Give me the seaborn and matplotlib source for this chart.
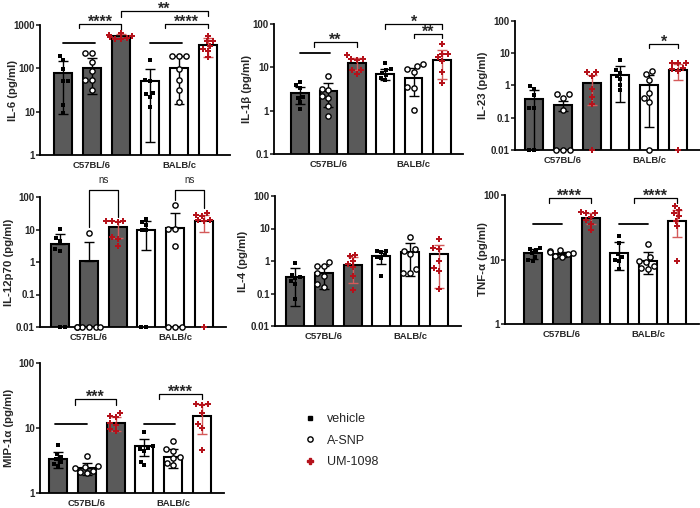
import matplotlib
matplotlib.use("Agg")
import matplotlib.pyplot as plt
from matplotlib.lines import Line2D
from matplotlib.ticker import NullLocator
import numpy as np
import pandas as pd
import seaborn as sns

STRAINS = ["C57BL/6", "BALB/c"]
TREATMENTS = ["vehicle", "A-SNP", "UM-1098"]
BARS = [f"{s} {t}" for s in STRAINS for t in TREATMENTS]

# bar heights (mean), SD, and individual animals, order = BARS
IL6_MEAN = [77, 100, 550, 50, 103, 340]
IL6_SD = [68, 75, 60, 48, 88, 160]
IL6_POINTS = [
    [191, 154, 94, 50, 50, 14, 9.3],
    [228, 220, 138, 89, 55, 55, 32],
    [660, 600, 555, 535, 510, 480, 465],
    [155, 55, 50, 27, 25, 22, 13],
    [195, 195, 195, 95, 55, 32, 17],
    [560, 430, 420, 330, 280, 250, 180],
]

IL1B_MEAN = [2.5, 2.8, 12.5, 7.2, 5.8, 15]
IL1B_SD = [1.1, 1.6, 4.0, 2.0, 3.6, 9.5]
IL1B_POINTS = [
    [4.7, 3.9, 3.3, 2.1, 2.0, 1.6, 1.1],
    [6.3, 3.2, 3.0, 2.2, 2.0, 1.3, 0.75],
    [19, 15.5, 15.5, 15, 8.7, 8.5, 7.2],
    [12.4, 9.0, 8.5, 7.5, 6.5, 5.8, 5.0],
    [12, 11, 9, 8, 3.5, 3.3, 1.05],
    [35, 20, 20, 17, 14, 8, 4.3],
]

IL23_MEAN = [0.38, 0.24, 1.2, 2.1, 1.05, 3.0]
IL23_SD = [0.37, 0.08, 0.95, 1.8, 1.0, 1.55]
IL23_POINTS = [
    [0.95, 0.8, 0.5, 0.2, 0.2, 0, 0],
    [0.55, 0.55, 0.42, 0.18, 0, 0, 0],
    [2.6, 2.6, 2.0, 0.8, 0.45, 0.27, 0],
    [6.0, 3.0, 2.5, 2.0, 1.6, 1.0, 0.7],
    [2.8, 2.3, 1.5, 0.6, 0.42, 0.3, 0],
    [5.0, 5.0, 5.0, 3.5, 3.3, 2.9, 0],
]

IL12_MEAN = [3.7, 1.1, 11.8, 10, 11.3, 18.5]
IL12_SD = [3.7, 2.95, 6.5, 7.7, 20, 10]
IL12_POINTS = [
    [10.5, 5.5, 4.5, 2.5, 2.2, 0, 0],
    [7.8, 0, 0, 0, 0, 0, 0],
    [18, 18, 18, 17.5, 6, 5, 3.2],
    [21, 17, 14, 10, 9.5, 0, 0],
    [55, 10.6, 10.6, 3.1, 0, 0, 0],
    [33, 27, 26, 20, 19, 18, 0],
]

IL4_MEAN = [0.32, 0.42, 0.76, 1.45, 1.95, 1.65]
IL4_SD = [0.28, 0.28, 0.55, 0.65, 1.6, 1.5]
IL4_POINTS = [
    [0.85, 0.37, 0.33, 0.3, 0.25, 0.2, 0.07],
    [0.95, 0.72, 0.68, 0.42, 0.35, 0.19, 0.16],
    [1.5, 1.4, 1.0, 0.8, 0.65, 0.35, 0.13],
    [2.1, 2.0, 1.9, 1.5, 1.3, 1.2, 0.35],
    [5.3, 2.3, 2.0, 1.6, 0.55, 0.42, 0.42],
    [4.6, 2.5, 2.4, 1.0, 0.6, 0.5, 0.14],
]

TNF_MEAN = [12.5, 12.0, 44, 12.8, 9.5, 40]
TNF_SD = [2.3, 1.2, 8, 6, 3.5, 18]
TNF_POINTS = [
    [15, 14.5, 14, 12.5, 11, 10, 9.5],
    [13.8, 13.5, 13, 12.5, 12, 11.5, 11],
    [55, 53, 52, 46, 41, 36, 29],
    [23, 18, 12, 11, 10, 9.5, 7],
    [17.5, 11, 9.5, 9, 8, 7.5, 7.2],
    [68, 58, 52, 47, 40, 33, 9.5],
]

MIP_MEAN = [3.3, 2.4, 12, 5.2, 3.6, 15.5]
MIP_SD = [0.9, 0.5, 3, 1.5, 1.2, 7.5]
MIP_POINTS = [
    [5.5, 4.0, 3.6, 3.3, 3.0, 2.8, 2.6],
    [3.7, 2.6, 2.5, 2.4, 2.2, 2.1, 2.0],
    [17, 15.5, 15, 12, 11, 9.5, 9.0],
    [8.6, 5.3, 5.0, 4.8, 4.5, 3.0, 2.7],
    [6.2, 4.8, 4.5, 3.6, 3.5, 2.9, 2.7],
    [23.5, 23, 22.5, 17, 11.5, 10, 4.6],
]

# significance marks: ("line", x0, x1, y) or ("br", x0, x1, y, leg0, leg1, text); y in axes fraction
IL6_MARKS = [("line", 0, 1.1, 0.86), ("br", 0.55, 2, 1.008, 0.975, 0.965, "****"),
             ("br", 2, 5, 1.108, 1.06, 1.07, "**"),
             ("line", 3, 4.1, 0.86), ("br", 3.5, 5, 1.008, 0.975, 0.975, "****")]
IL1B_MARKS = [("line", 0, 1.05, 0.777), ("br", 0.5, 2, 0.86, 0.82, 0.82, "**"),
              ("br", 3, 5, 1.0, 0.96, 0.96, "*"), ("br", 4, 5, 0.92, 0.89, 0.89, "**")]
IL23_MARKS = [("br", 4, 5, 0.82, 0.79, 0.79, "*")]
IL12_MARKS = [("br", 1, 2, 1.054, 0.77, 0.846, "ns"), ("br", 4, 5, 1.054, 0.977, 0.915, "ns")]
IL4_MARKS = []
TNF_MARKS = [("line", 0, 1.0, 0.775), ("br", 0.55, 2, 0.977, 0.94, 0.94, "****"),
             ("line", 3, 4, 0.775), ("br", 3.5, 5, 0.977, 0.94, 0.94, "****")]
MIP_MARKS = [("line", -0.1, 1.0, 0.53), ("br", 0.6, 2, 0.72, 0.68, 0.68, "***"),
             ("line", 3, 4.05, 0.53), ("br", 3.5, 5, 0.76, 0.72, 0.72, "****")]

PANELS = [
    ("IL-6 (pg/ml)", (1, 1000), IL6_MEAN, IL6_SD, IL6_POINTS, IL6_MARKS),
    ("IL-1β (pg/ml)", (0.1, 100), IL1B_MEAN, IL1B_SD, IL1B_POINTS, IL1B_MARKS),
    ("IL-23 (pg/ml)", (0.01, 100), IL23_MEAN, IL23_SD, IL23_POINTS, IL23_MARKS),
    ("IL-12p70 (pg/ml)", (0.01, 100), IL12_MEAN, IL12_SD, IL12_POINTS, IL12_MARKS),
    ("IL-4 (pg/ml)", (0.01, 100), IL4_MEAN, IL4_SD, IL4_POINTS, IL4_MARKS),
    ("TNF-α (pg/ml)", (1, 100), TNF_MEAN, TNF_SD, TNF_POINTS, TNF_MARKS),
    ("MIP-1α (pg/ml)", (1, 100), MIP_MEAN, MIP_SD, MIP_POINTS, MIP_MARKS),
]

# pixel layout: axis left, axis top, axis bottom, first bar centre, bar spacing, y-label right edge
LAYOUT = [
    (40, 25, 155, 63, 29.0, 18),
    (274, 24, 154, 300, 28.4, 252),
    (515, 21, 150, 534, 28.8, 488),
    (40, 197, 327, 60, 28.8, 14),
    (275, 196, 326, 295, 28.8, 248),
    (505, 195, 324, 533, 28.8, 488),
    (40, 363, 493, 58, 28.8, 14),
]

W, H = 700, 508
BAR_COLORS = {"C57BL/6": "#5a5a5a", "BALB/c": "white"}
RED = "#b5121b"
POINT_STYLE = {
    "vehicle": dict(marker="s", color="black", linewidth=0, size=3.4),
    "A-SNP": dict(marker="o", color="white", edgecolor="black", linewidth=1.0, size=3.8),
    "UM-1098": dict(marker="P", color=RED, linewidth=0, size=4.0),
}
ERR_COLORS = {"vehicle": "black", "A-SNP": "black", "UM-1098": "#d45a5a"}

sns.set_style("ticks")
plt.rcParams["font.family"] = ["Liberation Sans", "DejaVu Sans"]

fig = plt.figure(figsize=(W / 100, H / 100), dpi=100)
xhi = 5.75

for (ylabel, ylim, mean, sd, points, marks), (L, T, B, b0, sp, lab_x) in zip(PANELS, LAYOUT):
    xlo = -(b0 - L) / sp
    width_px = (xhi - xlo) * sp
    ax = fig.add_axes([L / W, 1 - B / H, width_px / W, (B - T) / H])
    ax.set_yscale("log")
    ax.set_ylim(*ylim)

    bars = pd.DataFrame({
        "bar": BARS,
        "strain": [s for s in STRAINS for _ in TREATMENTS],
        "mean": mean,
    })
    sns.barplot(data=bars, x="bar", y="mean", hue="strain", order=BARS, hue_order=STRAINS,
                palette=BAR_COLORS, dodge=False, width=0.62, edgecolor="black",
                linewidth=1.5, errorbar=None, legend=False, ax=ax, zorder=1)

    for i, b in enumerate(BARS):
        treat = TREATMENTS[i % 3]
        m, s = mean[i], sd[i]
        lo = s if m - s > 0 else 0
        ax.errorbar([i], [m], yerr=[[lo], [s]], fmt="none", ecolor=ERR_COLORS[treat],
                    elinewidth=1.0, capsize=3.5, capthick=1.0, zorder=2)

    rows = []
    for i, b in enumerate(BARS):
        for v in points[i]:
            rows.append({"bar": b, "treatment": TREATMENTS[i % 3], "value": max(v, ylim[0])})
    pts = pd.DataFrame(rows)
    for treat in TREATMENTS:
        sub = pts[pts["treatment"] == treat]
        sns.swarmplot(data=sub, x="bar", y="value", order=BARS, ax=ax, zorder=4,
                      clip_on=False, warn_thresh=1, **POINT_STYLE[treat])

    ax.set_xlim(xlo, xhi)
    ax.set_ylim(*ylim)
    ax.set_xticks([1, 4], STRAINS)
    ax.set_xlabel("")
    ax.set_ylabel(ylabel, fontsize=8.2, fontweight="bold")
    ax.yaxis.set_label_coords((lab_x - L) / width_px, 0.5)
    decades = [10.0 ** k for k in range(int(np.log10(ylim[0])), int(np.log10(ylim[1])) + 1)]
    ax.set_yticks(decades, [f"{d:g}" for d in decades])
    ax.yaxis.set_minor_locator(NullLocator())
    ax.tick_params(axis="y", length=3, width=1.2, labelsize=7, pad=0.8)
    ax.tick_params(axis="x", length=0, labelsize=6.8, pad=4)
    for lbl in ax.get_xticklabels() + ax.get_yticklabels():
        lbl.set_fontweight("bold")
    for side in ("top", "right"):
        ax.spines[side].set_visible(False)
    for side in ("left", "bottom"):
        ax.spines[side].set_linewidth(1.3)
        ax.spines[side].set_color("black")

    tr = ax.get_xaxis_transform()
    for mk in marks:
        if mk[0] == "line":
            _, x0, x1, y = mk
            ax.plot([x0, x1], [y, y], color="black", lw=1.3, transform=tr, clip_on=False)
        else:
            _, x0, x1, y, l0, l1, text = mk
            ax.plot([x0, x0, x1, x1], [l0, y, y, l1], color="black", lw=0.9,
                    transform=tr, clip_on=False)
            if text == "ns":
                ax.text((x0 + x1) / 2, y + 0.04, text, transform=tr, ha="center",
                        va="bottom", fontsize=7)
            else:
                ax.text((x0 + x1) / 2, y - 0.022, text, transform=tr, ha="center",
                        va="baseline", fontsize=11.5, fontweight="bold")

handles = [
    Line2D([], [], linestyle="none", marker="s", color="black", markersize=3.4),
    Line2D([], [], linestyle="none", marker="o", markerfacecolor="white",
           markeredgecolor="black", markeredgewidth=1.0, markersize=3.8),
    Line2D([], [], linestyle="none", marker="P", color=RED, markersize=4.0),
]
fig.legend(handles, TREATMENTS, loc="upper left", bbox_to_anchor=(297 / W, 1 - 407 / H),
           frameon=False, fontsize=9, handlelength=1.0, handletextpad=0.9, labelspacing=0.75,
           borderpad=0)

fig.savefig("out.png", dpi=100, facecolor="white")
